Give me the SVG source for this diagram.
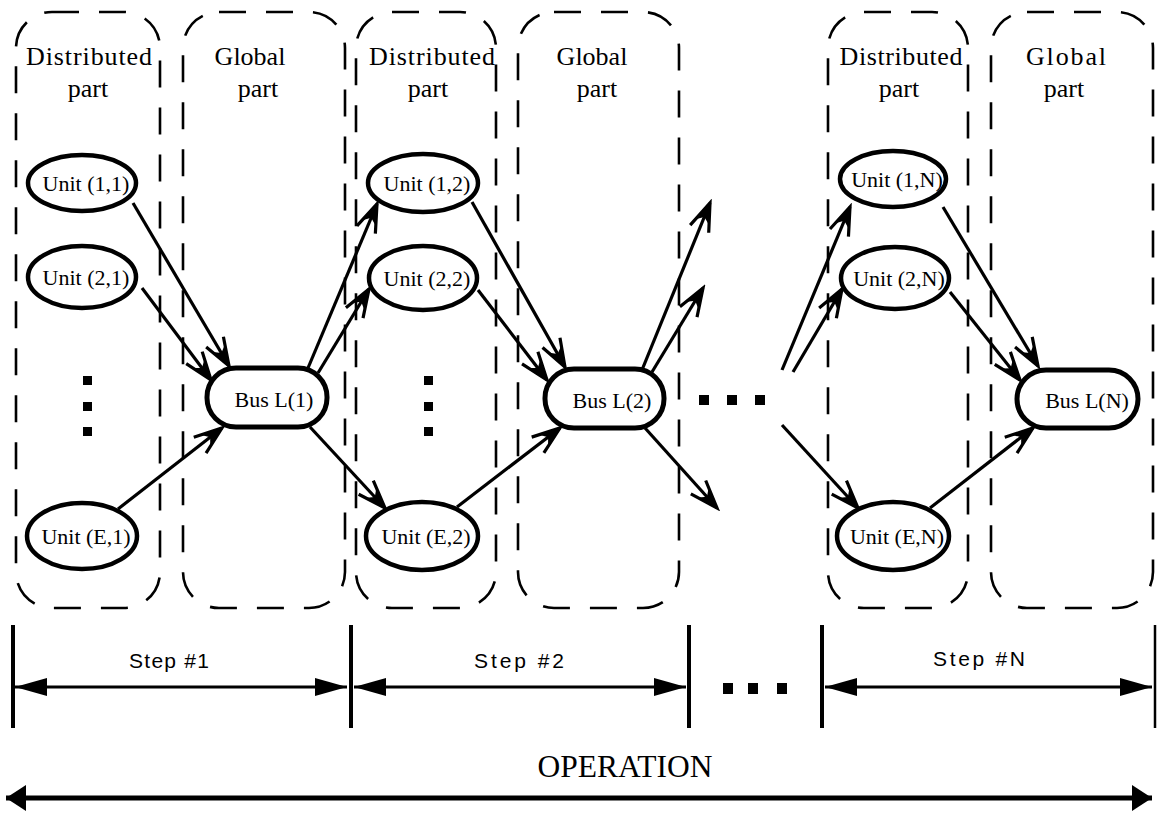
<svg xmlns="http://www.w3.org/2000/svg" width="1158" height="814" viewBox="0 0 1158 814">
<style>
.box{fill:none;stroke:#000;stroke-width:2.6;stroke-dasharray:27 20}
.unit{fill:#fff;stroke:#000;stroke-width:4.5}
.bus{fill:#fff;stroke:#000;stroke-width:5}
.hdr{font-family:"Liberation Serif","Times New Roman",serif;font-size:26px;text-anchor:middle;fill:#000}
.lbl{font-family:"Liberation Serif","Times New Roman",serif;font-size:22px;text-anchor:middle;fill:#000}
.step{font-family:"Liberation Sans",Arial,sans-serif;font-size:21px;text-anchor:middle;fill:#000}
.op{font-family:"Liberation Serif","Times New Roman",serif;font-size:32px;text-anchor:middle;fill:#000}
.con{stroke:#000;stroke-width:3.2;fill:none;marker-end:url(#ah)}
.bar{stroke:#000;stroke-width:4}
.dim{stroke:#000;stroke-width:3;marker-start:url(#tri);marker-end:url(#tri)}
.opl{stroke:#000;stroke-width:5;marker-start:url(#tri2);marker-end:url(#tri2)}
</style>
<defs>
<marker id="ah" markerUnits="userSpaceOnUse" markerWidth="36" markerHeight="28" refX="32" refY="13" orient="auto" viewBox="0 0 36 26">
<path d="M4,3 L32,13 L4,23" fill="none" stroke="#000" stroke-width="3.2" stroke-linejoin="miter"/>
<path d="M33,13 L12,6.5 L17,13 L12,19.5 Z" fill="#000"/>
</marker>
<marker id="tri" markerUnits="userSpaceOnUse" markerWidth="34" markerHeight="20" refX="32" refY="9" orient="auto-start-reverse" viewBox="0 0 34 18">
<path d="M0,0 L32,9 L0,18 Z" fill="#000"/>
</marker>
<marker id="tri2" markerUnits="userSpaceOnUse" markerWidth="24" markerHeight="28" refX="20" refY="13" orient="auto-start-reverse" viewBox="0 0 24 26">
<path d="M0,0 L20,13 L0,26 Z" fill="#000"/>
</marker>
</defs>

<g id="part-distributed-1">
<rect class="box" x="16" y="12" width="144" height="596" rx="36"/>
<text class="hdr" x="89" y="65" textLength="126" lengthAdjust="spacing">Distributed</text>
<text class="hdr" x="88" y="97">part</text>
</g>
<g id="part-global-1">
<rect class="box" x="183" y="12" width="162" height="596" rx="36"/>
<text class="hdr" x="250" y="65">Global</text>
<text class="hdr" x="258" y="97">part</text>
</g>
<g id="part-distributed-2">
<rect class="box" x="356" y="12" width="140" height="596" rx="36"/>
<text class="hdr" x="432" y="65" textLength="126" lengthAdjust="spacing">Distributed</text>
<text class="hdr" x="428" y="97">part</text>
</g>
<g id="part-global-2">
<rect class="box" x="518" y="12" width="161" height="596" rx="36"/>
<text class="hdr" x="592" y="65">Global</text>
<text class="hdr" x="597" y="97">part</text>
</g>
<g id="part-distributed-n">
<rect class="box" x="828" y="12" width="140" height="596" rx="36"/>
<text class="hdr" x="901" y="65" textLength="123" lengthAdjust="spacing">Distributed</text>
<text class="hdr" x="899" y="97">part</text>
</g>
<g id="part-global-n">
<rect class="box" x="991" y="12" width="162" height="596" rx="36"/>
<text class="hdr" x="1066" y="65" textLength="80" lengthAdjust="spacing">Global</text>
<text class="hdr" x="1064" y="97">part</text>
</g>

<g id="connectors">
<line class="con" x1="133" y1="203" x2="229" y2="366"/>
<line class="con" x1="142" y1="288" x2="211" y2="380"/>
<line class="con" x1="118" y1="509" x2="222" y2="428"/>
<line class="con" x1="308" y1="368" x2="377" y2="204"/>
<line class="con" x1="318" y1="373" x2="369" y2="289"/>
<line class="con" x1="310" y1="427" x2="385" y2="508"/>
<line class="con" x1="472" y1="202" x2="565" y2="367"/>
<line class="con" x1="478" y1="290" x2="547" y2="380"/>
<line class="con" x1="457" y1="507" x2="560" y2="428"/>
<line class="con" x1="642" y1="370" x2="710" y2="203"/>
<line class="con" x1="652" y1="372" x2="703" y2="288"/>
<line class="con" x1="645" y1="428" x2="717" y2="508"/>
<line class="con" x1="782" y1="370" x2="850" y2="207"/>
<line class="con" x1="793" y1="372" x2="842" y2="289"/>
<line class="con" x1="782" y1="425" x2="858" y2="508"/>
<line class="con" x1="943" y1="207" x2="1038" y2="366"/>
<line class="con" x1="950" y1="292" x2="1020" y2="380"/>
<line class="con" x1="930" y1="508" x2="1033" y2="428"/>
</g>

<g id="unit-1-1"><ellipse class="unit" cx="82" cy="183" rx="54" ry="28"/><text class="lbl" x="86" y="191">Unit (1,1)</text></g>
<g id="unit-2-1"><ellipse class="unit" cx="82" cy="277" rx="54" ry="31"/><text class="lbl" x="86" y="285">Unit (2,1)</text></g>
<g id="unit-e-1"><ellipse class="unit" cx="82" cy="536" rx="55" ry="33"/><text class="lbl" x="86" y="544">Unit (E,1)</text></g>
<g id="bus-1"><rect class="bus" x="207" y="368" width="120" height="59" rx="29"/><text class="lbl" x="274" y="407">Bus L(1)</text></g>

<g id="unit-1-2"><ellipse class="unit" cx="423" cy="183" rx="55" ry="29"/><text class="lbl" x="427" y="191">Unit (1,2)</text></g>
<g id="unit-2-2"><ellipse class="unit" cx="423" cy="278" rx="54" ry="32"/><text class="lbl" x="427" y="286">Unit (2,2)</text></g>
<g id="unit-e-2"><ellipse class="unit" cx="422" cy="536" rx="56" ry="34"/><text class="lbl" x="426" y="544">Unit (E,2)</text></g>
<g id="bus-2"><rect class="bus" x="545" y="369" width="119" height="59" rx="29"/><text class="lbl" x="612" y="408">Bus L(2)</text></g>

<g id="unit-1-n"><ellipse class="unit" cx="893" cy="179" rx="53" ry="28"/><text class="lbl" x="897" y="187">Unit (1,N)</text></g>
<g id="unit-2-n"><ellipse class="unit" cx="895" cy="278" rx="54" ry="31"/><text class="lbl" x="899" y="286">Unit (2,N)</text></g>
<g id="unit-e-n"><ellipse class="unit" cx="893" cy="536" rx="56" ry="34"/><text class="lbl" x="897" y="544">Unit (E,N)</text></g>
<g id="bus-n"><rect class="bus" x="1017" y="370" width="121" height="58" rx="29"/><text class="lbl" x="1087" y="408">Bus L(N)</text></g>

<g id="ellipsis-dots">
<rect x="83" y="376" width="9" height="9"/>
<rect x="83" y="402" width="9" height="9"/>
<rect x="83" y="427" width="9" height="9"/>
<rect x="424" y="376" width="9" height="9"/>
<rect x="424" y="402" width="9" height="9"/>
<rect x="424" y="427" width="9" height="9"/>
<rect x="699" y="395" width="10" height="10"/>
<rect x="727" y="395" width="10" height="10"/>
<rect x="755" y="395" width="10" height="10"/>
</g>

<g id="steps">
<line class="bar" x1="13" y1="625" x2="13" y2="728"/>
<line class="bar" x1="351" y1="625" x2="351" y2="728"/>
<line class="bar" x1="689" y1="625" x2="689" y2="728"/>
<line class="bar" x1="822" y1="625" x2="822" y2="728"/>
<line x1="1155" y1="625" x2="1155" y2="728" stroke="#000" stroke-width="2.5"/>
<line class="dim" x1="15" y1="687" x2="347" y2="687"/>
<line class="dim" x1="354" y1="687" x2="686" y2="687"/>
<line class="dim" x1="825" y1="687" x2="1152" y2="687"/>
<text class="step" x="169" y="668" textLength="80" lengthAdjust="spacing">Step #1</text>
<text class="step" x="519" y="668" textLength="90" lengthAdjust="spacing">Step #2</text>
<text class="step" x="979" y="666" textLength="92" lengthAdjust="spacing">Step #N</text>
<rect x="723" y="683" width="10" height="11"/>
<rect x="748" y="683" width="10" height="11"/>
<rect x="777" y="683" width="10" height="11"/>
</g>

<g id="operation">
<text class="op" x="625" y="777" textLength="175" lengthAdjust="spacingAndGlyphs">OPERATION</text>
<line class="opl" x1="6" y1="798" x2="1152" y2="798"/>
</g>
</svg>
